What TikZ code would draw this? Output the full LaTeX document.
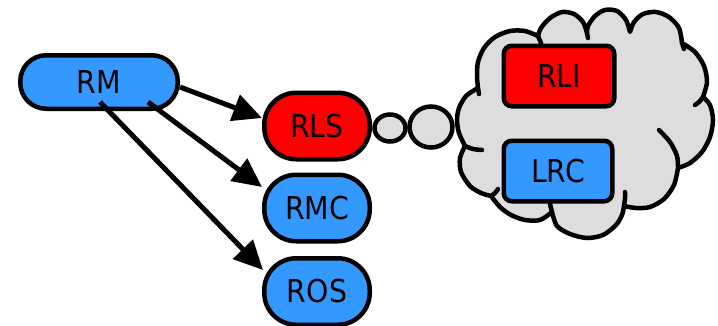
\documentclass[tikz,border=0pt]{standalone}
\usepackage{fontspec}
\setmainfont{DejaVu Sans}[FakeStretch=0.9]
\usetikzlibrary{arrows.meta,calc}
\definecolor{boxblue}{HTML}{3399FF}
\definecolor{boxred}{HTML}{FF0000}
\definecolor{cloudgray}{HTML}{DDDDDD}
\begin{document}
\begin{tikzpicture}[x=1pt,y=-1pt,
  lbl/.style={font=\fontsize{31.5}{31.5}\selectfont, text=black},
  pill/.style={lbl, draw=black, line width=4.5pt, rounded corners=#1, inner sep=0pt,
    minimum width=105.5pt, minimum height=66.5pt},
  boxr/.style={lbl, draw=black, line width=4.5pt, rounded corners=8pt, inner sep=0pt,
    minimum width=110pt, minimum height=60.5pt},
  arr/.style={draw=black, line width=5pt, -{Triangle[length=29pt,width=27pt]}},
  outline/.style={draw=black, line width=4.5pt},
  stub/.style={draw=black, line width=4.5pt, line cap=round},
]
\useasboundingbox (0,0) rectangle (718,325);

% thought bubbles
\draw[outline, fill=cloudgray] (390,128) ellipse [x radius=15.5pt, y radius=13.5pt];
\draw[outline, fill=cloudgray] (431,127) ellipse [x radius=21.5pt, y radius=20.5pt];

% cloud
\draw[outline, fill=cloudgray, line join=round]
  plot[smooth] coordinates {(538,36) (525,31) (510,31) (495,37) (484,48) (478,62) (477,76) (478,88)}
  -- plot[smooth] coordinates {(478,88) (466,96) (459,108) (457,120) (459,133) (465,146)}
  -- plot[smooth] coordinates {(465,146) (460,158) (461,172) (470,186) (481,193) (491,196)}
  -- plot[smooth] coordinates {(491,196) (500,207) (511,215) (525,220) (540,220) (552,212)}
  -- plot[smooth] coordinates {(552,212) (557,226) (570,234) (587,238) (603,235) (616,225) (622,215) (624,206)}
  -- plot[smooth] coordinates {(624,206) (636,208) (650,207) (664,199) (674,185) (678,168)}
  -- plot[smooth] coordinates {(678,168) (690,163) (702,152) (710,137) (713,120) (710,105) (703,97)}
  -- plot[smooth] coordinates {(703,97) (707,82) (704,66) (695,52) (682,43)}
  -- plot[smooth] coordinates {(682,43) (679,28) (669,17) (656,12) (643,14) (634,22) (630,32)}
  -- plot[smooth] coordinates {(630,32) (626,20) (617,11) (605,10) (595,16) (588,26) (587,33)}
  -- plot[smooth] coordinates {(587,33) (583,22) (574,14) (562,12) (550,18) (541,28) (538,36)}
  -- cycle;
% inner stubs of the cloud puffs
\draw[stub] (478,88) -- (479,94);
\draw[stub] plot[smooth] coordinates {(465,146) (473,149) (482,150)};
\draw[stub] plot[smooth] coordinates {(491,196) (495,193) (498,189)};
\draw[stub] (552,212) -- (550,204);
\draw[stub] plot[smooth] coordinates {(624,206) (625,198) (625,192)};
\draw[stub] plot[smooth] coordinates {(678,168) (677,156) (670,142) (659,130)};
\draw[stub] plot[smooth] coordinates {(703,97) (699,102) (695,105)};
\draw[stub] (682,43) -- (684,49);
\draw[stub] (587,33) -- (588,38);
\draw[stub] (538,36) -- (541,43);

% nodes
\node[pill=26pt, fill=boxblue, minimum width=157.5pt, minimum height=53.5pt] (RM) at (99,82) {RM};
\node[pill=32pt, fill=boxred] (RLS) at (317,126) {RLS};
\node[pill=32pt, fill=boxblue] (RMC) at (317,208) {RMC};
\node[pill=32pt, fill=boxblue] (ROS) at (317,291.5) {ROS};
\node[boxr, fill=boxred, minimum width=110.5pt] (RLI) at (559,76) {RLI};
\node[boxr, fill=boxblue, minimum width=108.5pt] (LRC) at (558,171) {LRC};

% connectors
\draw[arr] ($(RM.east)+(0,5)$) -- ($(RLS.west)+(0,-8)$);
\draw[arr] ($(RM.south)+(49,-9)$) -- ($(RMC.west)+(0,-21)$);
\draw[arr] ($(RM.south)+(1,-9)$) -- ($(ROS.west)+(1,-21.5)$);
\end{tikzpicture}
\end{document}
